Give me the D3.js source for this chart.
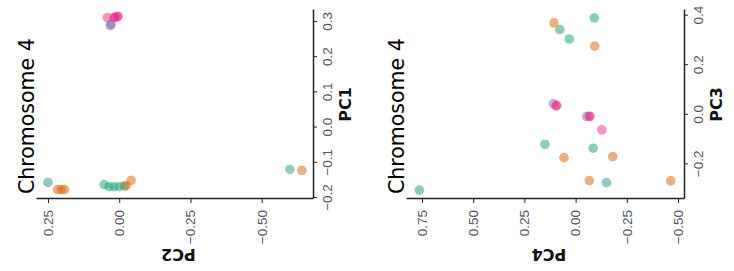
<!DOCTYPE html>
<html>
<head>
<meta charset="utf-8">
<script src="https://cdn.jsdelivr.net/npm/d3@7"></script>
<style>
  body { margin: 0; background: #fff; }
  svg { font-family: "DejaVu Sans", sans-serif; }
  .tick text { fill: #556; font-size: 13.5px; }
  .axis path, .axis line { stroke: #222; }
  .axis-title { font-size: 16px; font-weight: bold; fill: #111; }
  .plot-title { font-size: 20.5px; fill: #000; }
</style>
</head>
<body>
<svg id="chart" width="734" height="271"></svg>
<script>
// sample groups (Dark2 palette order)
var groupNames = ['A', 'B', 'C', 'D'];
var groupColors = ['#1b9e77', '#d95f02', '#7570b3', '#e7298a'];

var sampleGroup = ['A', 'A', 'A', 'A', 'A', 'A', 'A',
                   'B', 'B', 'B', 'B', 'B', 'B',
                   'C', 'C',
                   'D', 'D', 'D', 'D', 'D'];

var pc1 = [-0.156, -0.162, -0.168, -0.168, -0.168, -0.166, -0.119,
           -0.176, -0.176, -0.176, -0.165, -0.150, -0.122,
           0.290, 0.293,
           0.3125, 0.3125, 0.313, 0.315, 0.316];
var pc2 = [0.250, 0.053, 0.035, 0.018, 0.000, -0.018, -0.599,
           0.216, 0.203, 0.192, -0.025, -0.042, -0.641,
           0.032, 0.028,
           0.042, 0.018, 0.015, 0.007, 0.004];
var pc3 = [0.391, 0.344, 0.306, -0.119, -0.135, -0.274, -0.304,
           0.371, 0.277, -0.173, -0.169, -0.266, -0.267,
           0.045, -0.007,
           0.036, 0.038, -0.007, -0.005, -0.061];
var pc4 = [-0.091, 0.077, 0.031, 0.150, -0.086, -0.151, 0.763,
           0.106, -0.093, 0.057, -0.181, -0.067, -0.464,
           0.109, -0.054,
           0.096, 0.092, -0.070, -0.066, -0.128];

var chartTitle = 'Chromosome 4';

var pc1Ticks = [-0.2, -0.1, 0.0, 0.1, 0.2, 0.3];
var pc2Ticks = [0.25, 0.00, -0.25, -0.50];
var pc3Ticks = [-0.2, 0.0, 0.2, 0.4];
var pc4Ticks = [0.75, 0.50, 0.25, 0.00, -0.25, -0.50];

var color = d3.scaleOrdinal().domain(groupNames).range(groupColors);
var svg = d3.select('#chart');

// each panel is drawn as an ordinary scatter plot and then turned a quarter left
function drawPanel(opts) {
  var w = opts.w, h = opts.h;
  var g = svg.append('g')
    .attr('transform', 'translate(' + opts.left + ',' + opts.bottom + ') rotate(-90)');

  var x = d3.scaleLinear().domain(opts.xDomain).range([0, w]);
  var y = d3.scaleLinear().domain(opts.yDomain).range([h, 0]);

  g.append('g')
    .attr('class', 'axis')
    .attr('transform', 'translate(0,' + h + ')')
    .call(d3.axisBottom(x).tickValues(opts.xTicks).tickFormat(d3.format(opts.xFormat))
      .tickSize(4).tickPadding(5).tickSizeOuter(0))
    .call(function (a) { a.select('.domain').attr('stroke-width', 1.5); });

  g.append('g')
    .attr('class', 'axis')
    .call(d3.axisLeft(y).tickValues(opts.yTicks).tickFormat(d3.format(opts.yFormat))
      .tickSize(4).tickPadding(7).tickSizeOuter(0))
    .call(function (a) { a.select('.domain').attr('stroke-width', 1.5); });

  g.append('text')
    .attr('class', 'axis-title')
    .attr('x', w / 2)
    .attr('y', h + 38)
    .attr('text-anchor', 'middle')
    .text(opts.xLabel);

  g.append('text')
    .attr('class', 'axis-title')
    .attr('transform', 'translate(-56,' + (h / 2 + 4) + ') rotate(-90)')
    .attr('text-anchor', 'middle')
    .attr('dy', '0.35em')
    .text(opts.yLabel);

  g.append('text')
    .attr('class', 'plot-title')
    .attr('x', 5)
    .attr('y', -2)
    .text(chartTitle);

  g.append('g').selectAll('circle')
    .data(sampleGroup.map(function (grp, i) {
      return { group: grp, xv: opts.xValues[i], yv: opts.yValues[i] };
    }))
    .enter().append('circle')
    .attr('cx', function (d) { return x(d.xv); })
    .attr('cy', function (d) { return y(d.yv); })
    .attr('r', 4.8)
    .attr('fill', function (d) { return color(d.group); })
    .attr('fill-opacity', 0.5);
}

drawPanel({
  left: 36, bottom: 199, w: 189, h: 277,
  xDomain: [-0.203, 0.334], yDomain: [-0.68, 0.292],
  xTicks: pc1Ticks, yTicks: pc2Ticks, xFormat: '.1f', yFormat: '.2f',
  xValues: pc1, yValues: pc2, xLabel: 'PC1', yLabel: 'PC2'
});

drawPanel({
  left: 406, bottom: 199, w: 189, h: 278,
  xDomain: [-0.34, 0.423], yDomain: [-0.529, 0.828],
  xTicks: pc3Ticks, yTicks: pc4Ticks, xFormat: '.1f', yFormat: '.2f',
  xValues: pc3, yValues: pc4, xLabel: 'PC3', yLabel: 'PC4'
});
</script>
</body>
</html>
